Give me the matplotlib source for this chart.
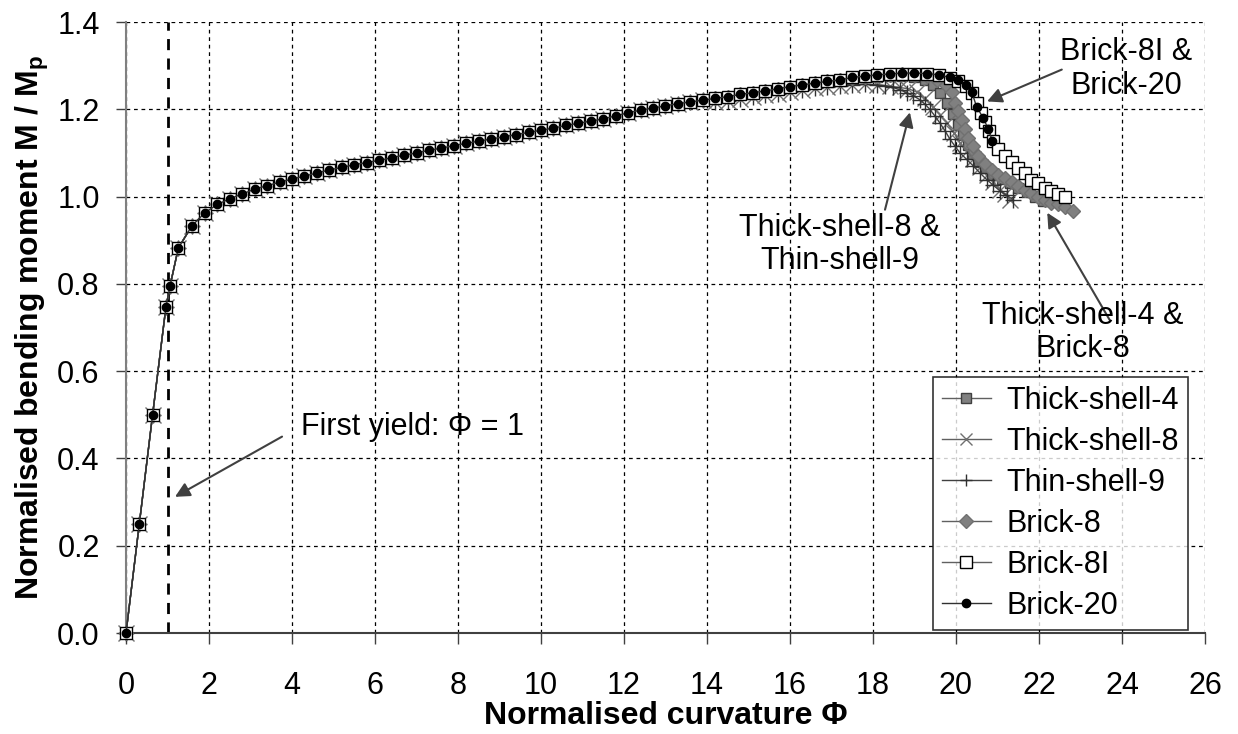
import numpy as np
import matplotlib.pyplot as plt

plt.rcParams['font.family'] = ['Liberation Sans', 'DejaVu Sans']

# Common loading branch (all models coincide here)
phi_base = [0, 0.32, 0.64, 0.96, 1.06, 1.26, 1.58, 1.9, 2.2, 2.5, 2.8, 3.1, 3.4, 3.7,
            4.0, 4.3, 4.6, 4.9, 5.2, 5.5, 5.8, 6.1, 6.4, 6.7, 7.0, 7.3, 7.6, 7.9,
            8.2, 8.5, 8.8, 9.1, 9.4, 9.7, 10.0, 10.3, 10.6, 10.9, 11.2, 11.5, 11.8,
            12.1, 12.4, 12.7, 13.0, 13.3, 13.6, 13.9]
m_base = [0, 0.25, 0.50, 0.746, 0.795, 0.882, 0.932, 0.963, 0.982, 0.995, 1.006, 1.017,
          1.025, 1.033, 1.040, 1.047, 1.054, 1.061, 1.067, 1.073, 1.078, 1.083, 1.089,
          1.095, 1.100, 1.106, 1.111, 1.117, 1.122, 1.127, 1.132, 1.137, 1.142, 1.147,
          1.152, 1.157, 1.163, 1.168, 1.173, 1.178, 1.185, 1.192, 1.198, 1.203, 1.208,
          1.213, 1.217, 1.221]

# upper branch shared by brick models and Thick-shell-4
phi_upper = [14.2, 14.5, 14.8, 15.1, 15.4, 15.7, 16.0, 16.3, 16.6, 16.9, 17.2]
m_upper = [1.225, 1.229, 1.234, 1.238, 1.242, 1.247, 1.252, 1.256, 1.260, 1.264, 1.267]

# lower branch shared by the two shell-8/9 models
phi_shell = [14.2, 14.5, 14.8, 15.1, 15.4, 15.7, 16.0, 16.3, 16.6, 16.9, 17.2, 17.5, 17.8, 18.1]
m_shell = [1.216, 1.220, 1.224, 1.228, 1.232, 1.236, 1.240, 1.244, 1.248, 1.251, 1.254,
           1.256, 1.257, 1.256]

# post-peak tails
phi_ts4 = [17.5, 17.8, 18.1, 18.4, 18.7, 19.0, 19.25, 19.45, 19.62, 19.78, 19.92, 20.05,
           20.18, 20.3, 20.42, 20.56, 20.72, 20.9, 21.1, 21.3, 21.5, 21.7, 21.9, 22.1]
m_ts4 = [1.270, 1.273, 1.275, 1.276, 1.276, 1.273, 1.266, 1.255, 1.238, 1.215, 1.190, 1.165,
         1.140, 1.118, 1.098, 1.080, 1.065, 1.052, 1.040, 1.030, 1.020, 1.010, 1.000, 0.990]

phi_ts8 = [18.4, 18.65, 18.85, 19.05, 19.25, 19.45, 19.62, 19.78, 19.95, 20.1, 20.26,
           20.42, 20.58, 20.74, 20.9, 21.06, 21.18, 21.3]
m_ts8 = [1.253, 1.250, 1.247, 1.240, 1.225, 1.205, 1.187, 1.169, 1.146, 1.123, 1.104,
         1.085, 1.067, 1.050, 1.033, 1.016, 1.005, 0.993]

phi_tn9 = [18.3, 18.48, 18.65, 18.81, 18.97, 19.13, 19.25, 19.37, 19.49, 19.61, 19.74,
           19.86, 19.98, 20.1, 20.26, 20.42, 20.58, 20.74, 20.9, 21.06, 21.22, 21.38]
m_tn9 = [1.254, 1.250, 1.245, 1.238, 1.231, 1.222, 1.212, 1.200, 1.185, 1.169, 1.150,
         1.131, 1.115, 1.100, 1.085, 1.070, 1.054, 1.039, 1.026, 1.013, 1.003, 0.993]

phi_b8 = [17.5, 17.8, 18.1, 18.4, 18.7, 19.0, 19.3, 19.55, 19.75, 19.9, 19.98, 20.06,
          20.14, 20.22, 20.3, 20.4, 20.54, 20.7, 20.86, 21.02, 21.18, 21.34, 21.5, 21.66,
          21.82, 21.98, 22.14, 22.3, 22.46, 22.63, 22.81]
m_b8 = [1.271, 1.274, 1.277, 1.279, 1.280, 1.279, 1.276, 1.268, 1.255, 1.240, 1.215, 1.195,
        1.175, 1.155, 1.135, 1.115, 1.092, 1.074, 1.062, 1.050, 1.043, 1.033, 1.025, 1.016,
        1.008, 0.999, 0.993, 0.986, 0.982, 0.976, 0.967]

phi_b8i = [17.5, 17.8, 18.1, 18.4, 18.7, 19.0, 19.3, 19.6, 19.85, 20.06, 20.24, 20.38,
           20.5, 20.6, 20.7, 20.8, 20.9, 21.02, 21.18, 21.34, 21.5, 21.66, 21.82, 21.98,
           22.14, 22.3, 22.46, 22.63]
m_b8i = [1.273, 1.276, 1.279, 1.281, 1.282, 1.282, 1.281, 1.278, 1.272, 1.264, 1.254, 1.238,
         1.214, 1.192, 1.172, 1.150, 1.127, 1.110, 1.093, 1.079, 1.065, 1.053, 1.039, 1.030,
         1.020, 1.013, 1.007, 0.999]

phi_b20 = [17.5, 17.8, 18.1, 18.4, 18.7, 19.0, 19.3, 19.6, 19.85, 20.06, 20.24, 20.38,
           20.5, 20.66, 20.78, 20.88]
m_b20 = [1.273, 1.276, 1.279, 1.281, 1.283, 1.283, 1.282, 1.279, 1.273, 1.266, 1.256, 1.240,
         1.205, 1.180, 1.154, 1.127]

labels = ['Thick-shell-4', 'Thick-shell-8', 'Thin-shell-9', 'Brick-8', 'Brick-8I', 'Brick-20']

series = {
    'Thick-shell-4': (phi_base + phi_upper + phi_ts4, m_base + m_upper + m_ts4),
    'Thick-shell-8': (phi_base + phi_shell + phi_ts8, m_base + m_shell + m_ts8),
    'Thin-shell-9': (phi_base + phi_shell + phi_tn9, m_base + m_shell + m_tn9),
    'Brick-8': (phi_base + phi_upper + phi_b8, m_base + m_upper + m_b8),
    'Brick-8I': (phi_base + phi_upper + phi_b8i, m_base + m_upper + m_b8i),
    'Brick-20': (phi_base + phi_upper + phi_b20, m_base + m_upper + m_b20),
}

styles = {
    'Thick-shell-4': dict(color='#606060', marker='s', ms=7.5, mfc='#808080', mec='#404040', mew=1),
    'Thick-shell-8': dict(color='#606060', marker='x', ms=11, mec='#707070', mew=1),
    'Thin-shell-9': dict(color='#404040', marker='+', ms=11, mec='#303030', mew=1),
    'Brick-8': dict(color='#606060', marker='D', ms=7.5, mfc='#808080', mec='#707070', mew=1),
    'Brick-8I': dict(color='#606060', marker='s', ms=9, mfc='white', mec='black', mew=1),
    'Brick-20': dict(color='#303030', marker='o', ms=6, mfc='black', mec='black', mew=1),
}

fig = plt.figure(figsize=(12.38, 7.34), dpi=100)
ax = fig.add_axes([0.1018, 0.1376, 0.8715, 0.8324])

for name in labels:
    x, y = series[name]
    ax.plot(x, y, lw=1, label=name, clip_on=False, zorder=3, **styles[name])

# first yield line
ax.plot([1, 1], [0, 1.4], color='black', ls=(0, (4, 3)), lw=2, zorder=2)

ax.set_xlim(0, 26)
ax.set_ylim(0, 1.4)
ax.set_xticks(np.arange(0, 27, 2))
ax.set_yticks(np.arange(0, 1.41, 0.2))
ax.set_yticklabels([f'{v:.1f}' for v in np.arange(0, 1.41, 0.2)])
ax.grid(True, color='black', ls=(0, (3, 3)), lw=0.9)
ax.set_axisbelow(True)
for s in ['top', 'right']:
    ax.spines[s].set_visible(False)
ax.spines['left'].set_color('#808080')
ax.spines['bottom'].set_color('#404040')
for s in ['left', 'bottom']:
    ax.spines[s].set_linewidth(1.5)
ax.tick_params(axis='x', length=8, width=1, color='#404040', labelsize=22, pad=19)
ax.tick_params(axis='y', length=7, width=1, color='#404040', labelsize=22, pad=12)

ax.set_xlabel('Normalised curvature Φ', fontsize=23, fontweight='bold', labelpad=0)
ax.set_ylabel('Normalised bending moment M / M$_\\mathregular{p}$', fontsize=23,
              fontweight='bold', labelpad=4)

arrow = dict(arrowstyle='-|>', color='#404040', lw=1.5, mutation_scale=22, shrinkA=0, shrinkB=0)
ax.annotate('', xy=(20.75, 1.218), xytext=(22.55, 1.291), arrowprops=arrow)
ax.annotate('', xy=(18.89, 1.193), xytext=(18.29, 0.97), arrowprops=arrow)
ax.annotate('', xy=(22.2, 0.963), xytext=(23.7, 0.718), arrowprops=arrow)
ax.annotate('', xy=(1.18, 0.312), xytext=(3.76, 0.45), arrowprops=arrow)

ax.text(24.1, 1.292, 'Brick-8I &\nBrick-20', fontsize=22, ha='center', va='center', linespacing=1.15)
ax.text(17.2, 0.89, 'Thick-shell-8 &\nThin-shell-9', fontsize=22, ha='center', va='center', linespacing=1.15)
ax.text(23.05, 0.688, 'Thick-shell-4 &\nBrick-8', fontsize=22, ha='center', va='center', linespacing=1.15)
ax.text(4.22, 0.472, 'First yield: Φ = 1', fontsize=22, ha='left', va='center')

leg = ax.legend(loc='lower right', bbox_to_anchor=(0.984, 0.005), fontsize=22,
                frameon=True, fancybox=False, edgecolor='black', handlelength=1.6,
                labelspacing=0.36, borderpad=0.3, handletextpad=0.5, borderaxespad=0)
leg.get_frame().set_linewidth(1.2)
for h in leg.get_lines():
    h.set_markersize(min(h.get_markersize(), 8))

fig.savefig('out.png', dpi=100)
